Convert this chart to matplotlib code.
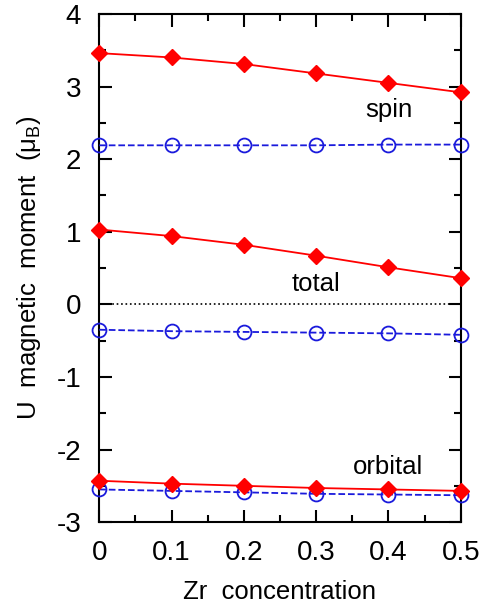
import matplotlib
matplotlib.use("Agg")
import matplotlib.pyplot as plt
from matplotlib.ticker import MultipleLocator

plt.rcParams['font.family'] = ['Liberation Sans', 'DejaVu Sans']
plt.rcParams['axes.unicode_minus'] = False

x = [0, 0.1, 0.2, 0.3, 0.4, 0.5]
spin_red = [3.46, 3.40, 3.31, 3.18, 3.05, 2.92]
spin_blue = [2.19, 2.19, 2.19, 2.19, 2.20, 2.20]
total_red = [1.03, 0.94, 0.82, 0.67, 0.51, 0.36]
total_blue = [-0.35, -0.37, -0.38, -0.39, -0.40, -0.42]
orb_red = [-2.43, -2.47, -2.50, -2.53, -2.55, -2.57]
orb_blue = [-2.55, -2.57, -2.59, -2.61, -2.62, -2.63]
xticks = [0, 0.1, 0.2, 0.3, 0.4, 0.5]
xticklabels = ['0', '0.1', '0.2', '0.3', '0.4', '0.5']
yticks = [-3, -2, -1, 0, 1, 2, 3, 4]

fig = plt.figure(figsize=(4.84, 6.05), dpi=100)
ax = fig.add_axes([0.205, 0.137, 0.747, 0.840])

ax.axhline(0, color='black', linestyle=':', linewidth=1.2)

for yr in (spin_red, total_red, orb_red):
    ax.plot(x, yr, color='red', linestyle='-', linewidth=1.3, marker='D',
            markersize=8, markerfacecolor='red', markeredgecolor='red', clip_on=False, zorder=4)
for yb in (spin_blue, total_blue, orb_blue):
    ax.plot(x, yb, color='#1a1adc', linestyle='--', linewidth=1.3, marker='o',
            markersize=10, markerfacecolor='none', markeredgecolor='#1a1adc',
            markeredgewidth=1.3, clip_on=False, zorder=3)

ax.set_xlim(0, 0.5)
ax.set_ylim(-3, 4)
ax.set_xticks(xticks)
ax.set_xticklabels(xticklabels)
ax.set_yticks(yticks)
ax.xaxis.set_minor_locator(MultipleLocator(0.05))
ax.yaxis.set_minor_locator(MultipleLocator(0.5))
ax.tick_params(which='both', direction='in', top=True, right=True, labelsize=20, width=1.5)
ax.tick_params(which='major', length=9, pad=13)
ax.tick_params(which='minor', length=5)
for s in ax.spines.values():
    s.set_linewidth(1.5)

ax.text(0.4, 2.68, 'spin', fontsize=18.5, ha='center', va='center')
ax.text(0.3, 0.28, 'total', fontsize=18.5, ha='center', va='center')
ax.text(0.4, -2.24, 'orbital', fontsize=18.5, ha='center', va='center')

ax.set_xlabel('Zr  concentration', fontsize=18.5, labelpad=10)
ax.set_ylabel(r'U  magnetic  moment  ($\mathregular{\mu_B}$)', fontsize=18.5, labelpad=10)

fig.savefig('out.png', dpi=100)
